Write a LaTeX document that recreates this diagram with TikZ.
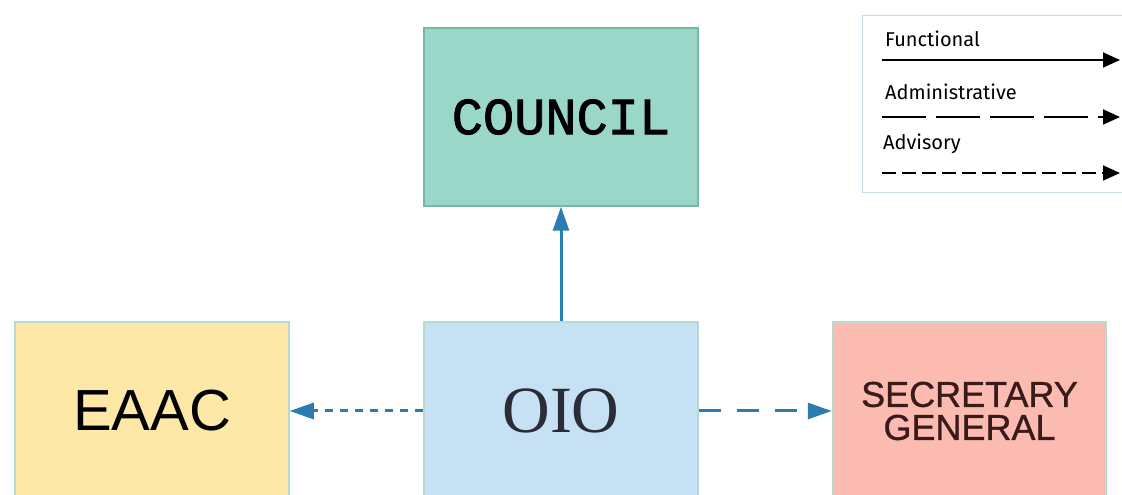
\documentclass[tikz,border=0pt]{standalone}
\usepackage{fontspec}
\setmainfont{Liberation Sans}
\newfontfamily\monofont[FakeBold=1.6]{Liberation Mono}
\newfontfamily\seriffont{Liberation Serif}
\newfontfamily\legendfont{Fira Sans}
\newfontfamily\sgfont[FakeBold=0.8]{Liberation Sans}
\usetikzlibrary{arrows.meta}
\definecolor{councilfill}{HTML}{9AD7C9}
\definecolor{councilborder}{HTML}{72B9A8}
\definecolor{oiofill}{HTML}{C6E1F4}
\definecolor{eaacfill}{HTML}{FDE8A8}
\definecolor{sgfill}{HTML}{FBBBB1}
\definecolor{boxborder}{HTML}{B5DCD2}
\definecolor{linkblue}{HTML}{2A7CB3}
\definecolor{legendborder}{HTML}{C9DEE4}
\definecolor{oiotext}{HTML}{2A2C38}
\definecolor{sgtext}{HTML}{3A1A1A}
\tikzset{
  orgbox/.style={draw=boxborder, line width=1.5pt, minimum width=274pt, minimum height=178pt, inner sep=0pt, align=center},
  link/.style={draw=linkblue, line width=3pt, -{Triangle[length=24pt,width=16pt]}},
  legline/.style={draw=black, line width=1.8pt, -{Triangle[length=17pt,width=15pt]}},
  legtext/.style={anchor=base west, inner sep=0pt, font=\legendfont\fontsize{20}{23}\selectfont}
}
\begin{document}
\begin{tikzpicture}[x=1pt,y=1pt]
\useasboundingbox (0,0) rectangle (1122,495);
\clip (0,0) rectangle (1122,495);
\fill[white] (0,0) rectangle (1122,495);
% boxes
\node[orgbox, fill=councilfill, draw=councilborder, font=\monofont\fontsize{52}{56}\selectfont] (council) at (561,378) {COUNCIL};
\node[orgbox, fill=oiofill, text=oiotext, font=\seriffont\fontsize{66}{70}\selectfont] (oio) at (561,84) {OIO};
\node[orgbox, fill=eaacfill, font=\fontsize{58}{62}\selectfont] (eaac) at (152,84) {EAAC};
\node[orgbox, fill=sgfill, text=sgtext, font=\sgfont\fontsize{36}{33}\selectfont] (sg) at (969.5,84) {SECRETARY\\GENERAL};
% connectors
\draw[link] (oio.north) -- (council.south);
\draw[link, dash pattern=on 8pt off 7pt] (oio.west) -- (eaac.east);
\draw[link, dash pattern=on 22pt off 16pt] (oio.east) -- (sg.west);
% legend
\node[draw=legendborder, line width=1.2pt, minimum width=270pt, minimum height=177pt, anchor=north west, inner sep=0pt] (legend) at (862,480) {};
\node[legtext] (lf) at (885,448) {Functional};
\node[legtext] (la) at (885,395) {Administrative};
\node[legtext] (lv) at (883,345) {Advisory};
\coordinate (f0) at (882,435);
\coordinate (f1) at (1120,435);
\coordinate (a0) at (882,378);
\coordinate (a1) at (1120,378);
\coordinate (v0) at (882,322);
\coordinate (v1) at (1120,322);
\draw[legline] (f0) -- (f1);
\draw[legline, dash pattern=on 44pt off 10pt] (a0) -- (a1);
\draw[legline, dash pattern=on 14pt off 6pt] (v0) -- (v1);
\end{tikzpicture}
\end{document}
